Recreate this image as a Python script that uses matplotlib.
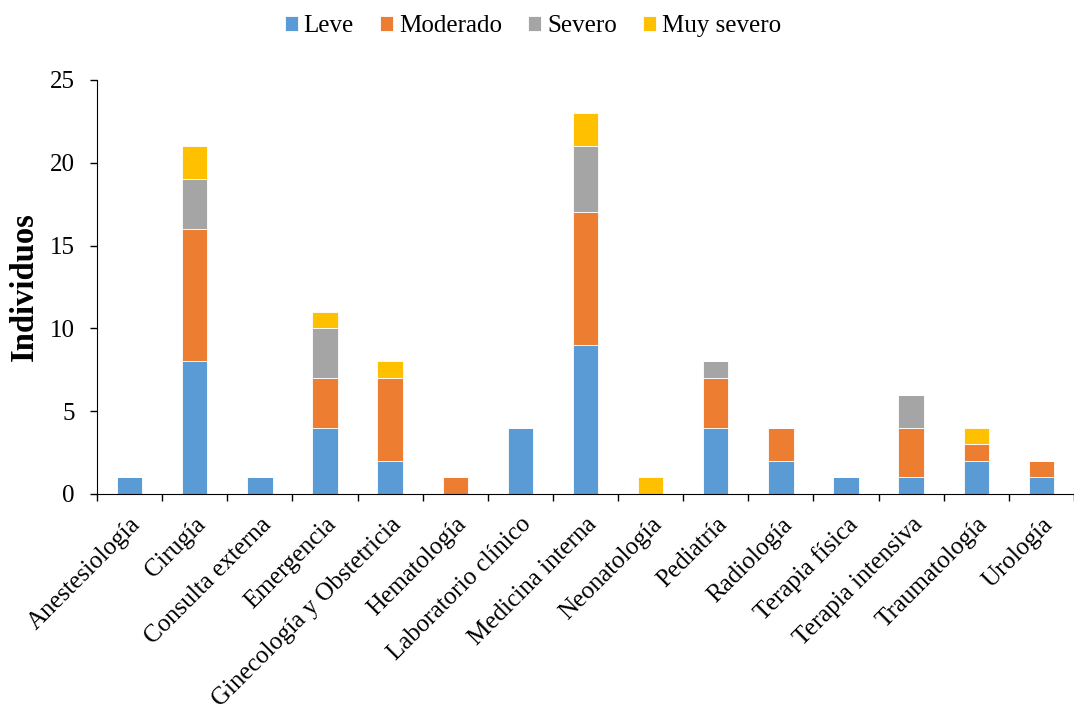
import numpy as np
import matplotlib
matplotlib.use("Agg")
import matplotlib.pyplot as plt

plt.rcParams['font.family'] = ['Liberation Serif', 'DejaVu Serif']

servicios = ['Anestesiología', 'Cirugía', 'Consulta externa', 'Emergencia',
             'Ginecología y Obstetricia', 'Hematología', 'Laboratorio clínico',
             'Medicina interna', 'Neonatología', 'Pediatría', 'Radiología',
             'Terapia física', 'Terapia intensiva', 'Traumatología', 'Urología']
leve = [1, 8, 1, 4, 2, 0, 4, 9, 0, 4, 2, 1, 1, 2, 1]
moderado = [0, 8, 0, 3, 5, 1, 0, 8, 0, 3, 2, 0, 3, 1, 1]
severo = [0, 3, 0, 3, 0, 0, 0, 4, 0, 1, 0, 0, 2, 0, 0]
muy_severo = [0, 2, 0, 1, 1, 0, 0, 2, 1, 0, 0, 0, 0, 1, 0]

series = [('Leve', leve, '#5B9BD5'),
          ('Moderado', moderado, '#ED7D31'),
          ('Severo', severo, '#A5A5A5'),
          ('Muy severo', muy_severo, '#FFC000')]

fig = plt.figure(figsize=(10.74, 7.2), dpi=100)
ax = fig.add_axes([0.0903, 0.314, 0.9097, 0.575])

x = np.arange(len(servicios))
bottom = np.zeros(len(servicios))
for name, vals, color in series:
    vals = np.array(vals)
    ax.bar(x, vals, 0.39, bottom=bottom, color=color, label=name,
           edgecolor='white', linewidth=0.6)
    bottom += vals

ax.set_xlim(-0.5, len(servicios) - 0.5)
ax.set_ylim(0, 25)
ax.set_yticks([0, 5, 10, 15, 20, 25])
ax.tick_params(axis='y', labelsize=18, direction='out', length=5, width=1, pad=11)

# ticks between categories, labels centered
ax.set_xticks(np.arange(-0.5, len(servicios), 1))
ax.set_xticklabels([])
ax.set_xticks(x, minor=True)
ax.set_xticklabels(servicios, minor=True, rotation=45, ha='right',
                   rotation_mode='anchor', fontsize=18)
ax.tick_params(axis='x', which='major', direction='out', length=5, width=1)
ax.tick_params(axis='x', which='minor', length=0, pad=14)

ax.spines['top'].set_visible(False)
ax.spines['right'].set_visible(False)
ax.spines['left'].set_color('black')
ax.spines['bottom'].set_color('black')

ax.set_ylabel('Individuos', fontsize=23.5, fontweight='bold')
ax.yaxis.set_label_coords(-0.058, 0.5)

fig.legend(loc='upper center', bbox_to_anchor=(0.496, 1.01), ncol=4, frameon=False,
           fontsize=18, handlelength=0.52, handleheight=0.52, handletextpad=0.24,
           columnspacing=1.04)

fig.savefig('out.png', dpi=100)
